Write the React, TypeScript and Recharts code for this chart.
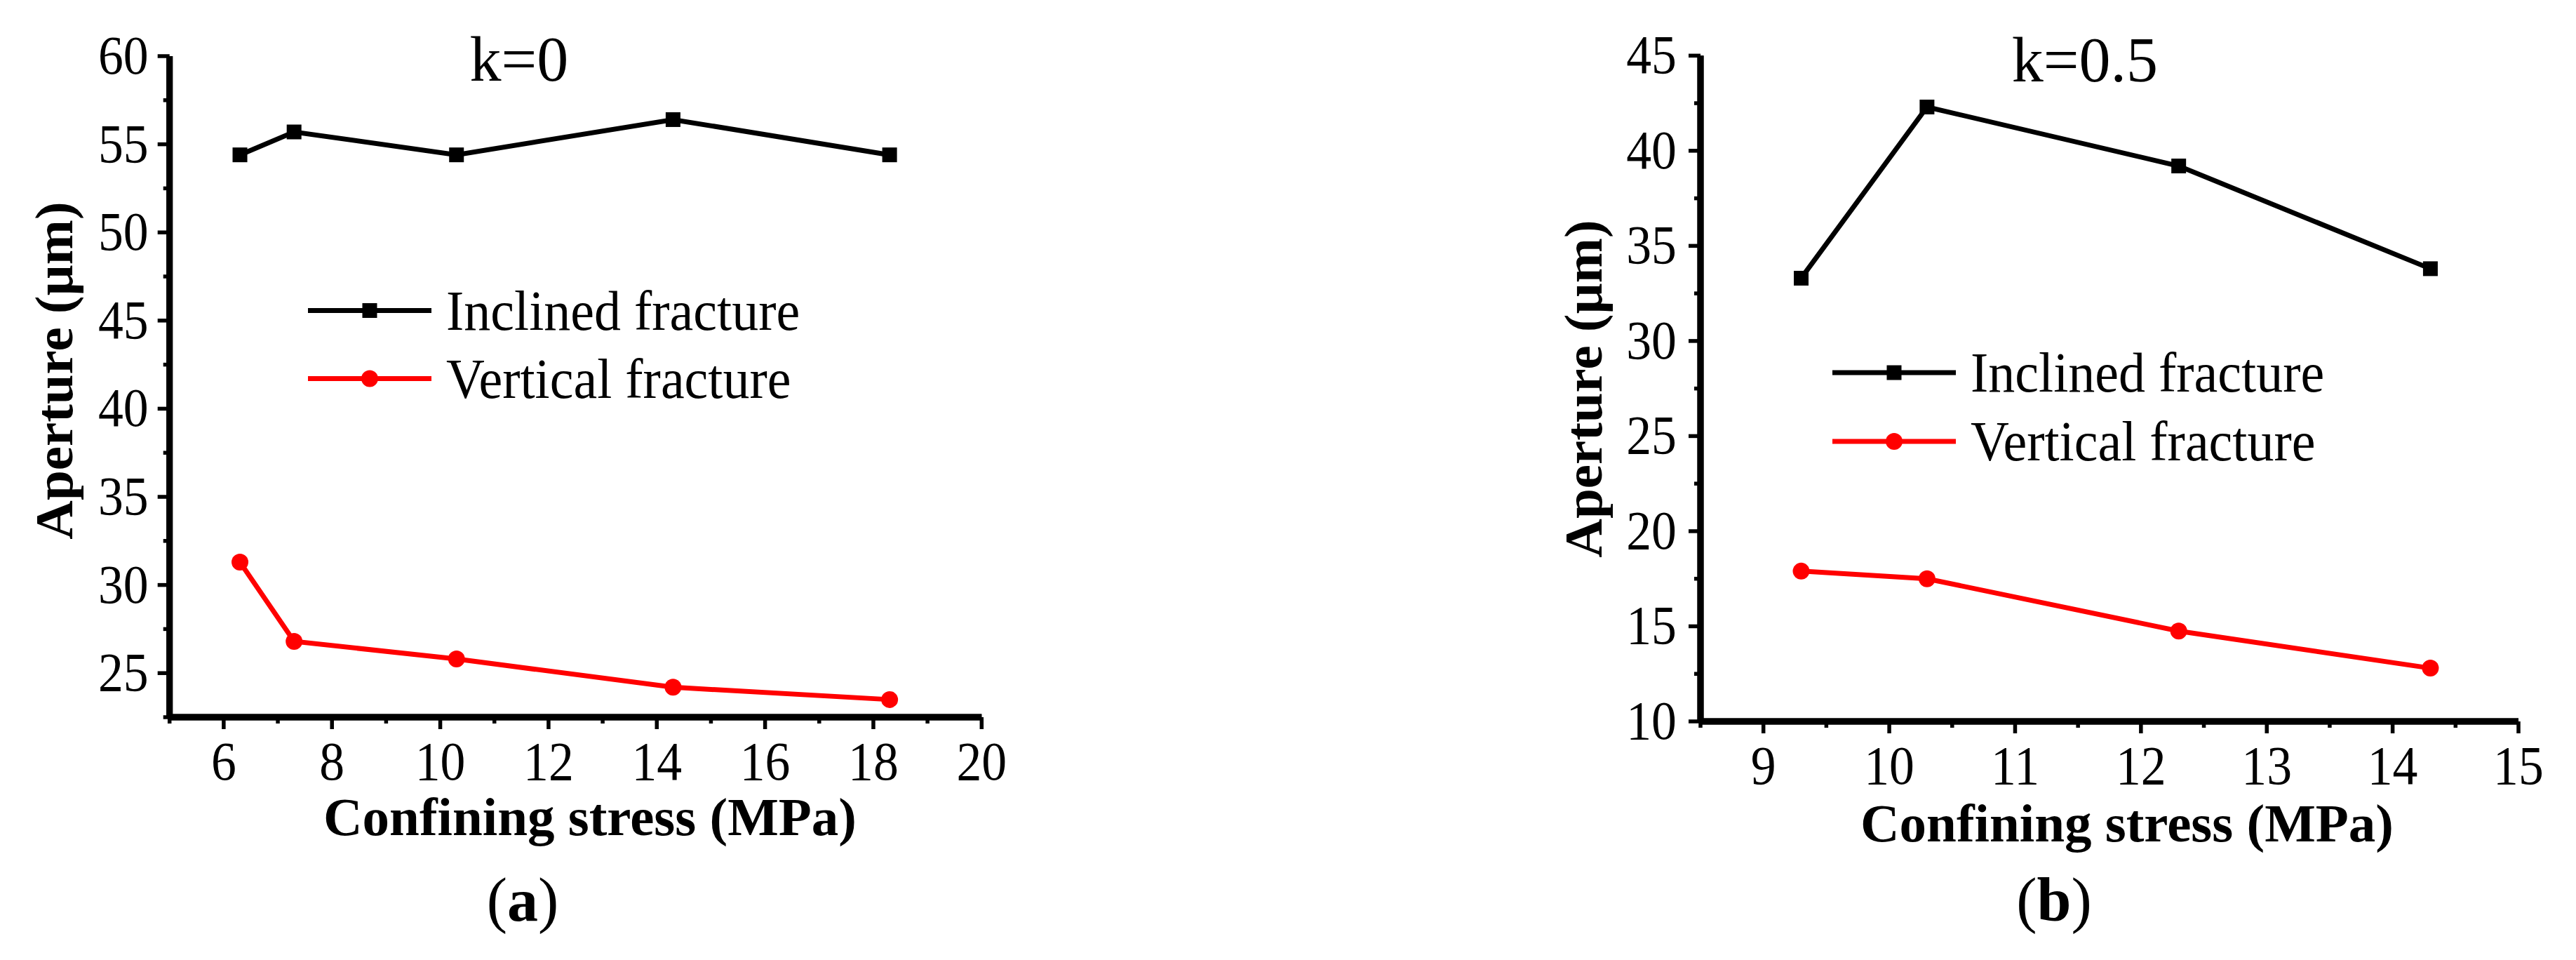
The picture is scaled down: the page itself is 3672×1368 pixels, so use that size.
import React from 'react';
import { LineChart, Line, XAxis, YAxis, Legend, ReferenceLine } from 'recharts';

// (a) k=0
const stressA = [6.3, 7.3, 10.3, 14.3, 18.3];
const inclinedA = [54.4, 55.7, 54.4, 56.4, 54.4];
const verticalA = [31.3, 26.8, 25.8, 24.2, 23.5];
const xTicksA = [5, 6, 7, 8, 9, 10, 11, 12, 13, 14, 15, 16, 17, 18, 19, 20];
const yTicksA = [22.5, 25, 27.5, 30, 32.5, 35, 37.5, 40, 42.5, 45, 47.5, 50, 52.5, 55, 57.5, 60];

// (b) k=0.5
const stressB = [9.3, 10.3, 12.3, 14.3];
const inclinedB = [33.3, 42.3, 39.2, 33.8];
const verticalB = [17.9, 17.5, 14.75, 12.8];
const xTicksB = [8.5, 9, 9.5, 10, 10.5, 11, 11.5, 12, 12.5, 13, 13.5, 14, 14.5, 15];
const yTicksB = [10, 12.5, 15, 17.5, 20, 22.5, 25, 27.5, 30, 32.5, 35, 37.5, 40, 42.5, 45];

const SERIES = ['Inclined fracture', 'Vertical fracture'];

const dataA = stressA.map((s, i) => ({ stress: s, inclined: inclinedA[i], vertical: verticalA[i] }));
const dataB = stressB.map((s, i) => ({ stress: s, inclined: inclinedB[i], vertical: verticalB[i] }));

const FONT = '"Liberation Serif", "Times New Roman", serif';
const RED = '#ff0000';

const Square = (props: any) => {
  const { cx, cy, index } = props;
  return <rect key={`sq-${index}`} x={cx - 10.5} y={cy - 10.5} width={21} height={21} fill="#000" />;
};

const Circle = (props: any) => {
  const { cx, cy, index } = props;
  return <circle key={`ci-${index}`} cx={cx} cy={cy} r={12} fill={RED} />;
};

function xTick(isMajor: (v: number) => boolean) {
  return (props: any) => {
    const { x, y, payload } = props;
    const major = isMajor(payload.value);
    return (
      <g>
        <line x1={x} x2={x} y1={y} y2={y + (major ? 17 : 9)} stroke="#000" strokeWidth={5.5} />
        {major && (
          <g transform={`translate(${x},${y + 89}) scale(0.92,1)`}>
            <text x={0} y={0} textAnchor="middle" fontSize={78} fontFamily={FONT} fill="#000">
              {payload.value}
            </text>
          </g>
        )}
      </g>
    );
  };
}

function yTick(gap: number) {
  return (props: any) => {
    const { x, y, payload } = props;
    const major = payload.value % 5 === 0;
    return (
      <g>
        <line x1={x} x2={x - (major ? 17 : 9)} y1={y} y2={y} stroke="#000" strokeWidth={5.5} />
        {major && (
          <g transform={`translate(${x - gap},${y + 25}) scale(0.92,1)`}>
            <text x={0} y={0} textAnchor="end" fontSize={78} fontFamily={FONT} fill="#000">
              {payload.value}
            </text>
          </g>
        )}
      </g>
    );
  };
}

function renderLegend(rowH: number) {
  return (props: any) => {
    const items = props.payload || [];
    return (
      <svg width={1000} height={rowH * 2} style={{ display: 'block', overflow: 'visible' }}>
        {items.map((e: any, i: number) => {
          const cy = rowH / 2 + i * rowH;
          const isRed = e.value === SERIES[1];
          return (
            <g key={e.value}>
              <line x1={0} x2={176} y1={cy} y2={cy} stroke={e.color} strokeWidth={7} />
              {isRed ? (
                <circle cx={88} cy={cy} r={12} fill={RED} />
              ) : (
                <rect x={77.5} y={cy - 10.5} width={21} height={21} fill="#000" />
              )}
              <g transform={`translate(197,${cy + 27}) scale(0.95,1)`}>
                <text x={0} y={0} fontSize={80} fontFamily={FONT} fill="#000">
                  {e.value}
                </text>
              </g>
            </g>
          );
        })}
      </svg>
    );
  };
}

const yTitle = (cx: number, cy: number) => () => (
  <text
    x={cx}
    y={cy}
    transform={`rotate(-90, ${cx}, ${cy})`}
    textAnchor="middle"
    fontSize={77}
    fontWeight="bold"
    fontFamily={FONT}
    fill="#000"
  >
    Aperture (µm)
  </text>
);

const xTitle = (cx: number, by: number) => () => (
  <text x={cx} y={by} textAnchor="middle" fontSize={77} fontWeight="bold" fontFamily={FONT} fill="#000">
    Confining stress (MPa)
  </text>
);

const axisLine = { stroke: '#000', strokeWidth: 9 };

export default function App() {
  return (
    <div style={{ position: 'absolute', left: 0, top: 0, width: 3672, height: 1368, background: '#fff' }}>
      <div style={{ position: 'absolute', left: 0, top: 0 }}>
        <LineChart width={1800} height={1368} data={dataA} margin={{ top: 80, right: 400.7, bottom: 0, left: 0 }}>
          <XAxis
            dataKey="stress"
            type="number"
            domain={[5, 20]}
            ticks={xTicksA}
            interval={0}
            height={346}
            tickSize={0}
            tickMargin={0}
            tickLine={false}
            axisLine={axisLine}
            tick={xTick((v) => v % 2 === 0)}
            label={xTitle(841, 1190)}
          />
          <YAxis
            type="number"
            domain={[22.5, 60]}
            ticks={yTicksA}
            interval={0}
            width={241.7}
            tickSize={0}
            tickMargin={0}
            tickLine={false}
            axisLine={axisLine}
            tick={yTick(30)}
            label={yTitle(103, 528)}
          />
          <ReferenceLine x={xTicksA[0]} stroke="#000" strokeWidth={9} />
          <ReferenceLine y={yTicksA[0]} stroke="#000" strokeWidth={9} />
          <Legend
            layout="vertical"
            align="center"
            verticalAlign="middle"
            wrapperStyle={{ left: 439, top: 394, width: 1000 }}
            content={renderLegend(97)}
          />
          <Line dataKey="inclined" name={SERIES[0]} stroke="#000" strokeWidth={7} dot={<Square />} isAnimationActive={false} />
          <Line dataKey="vertical" name={SERIES[1]} stroke={RED} strokeWidth={7} dot={<Circle />} isAnimationActive={false} />
        </LineChart>
      </div>
      <div style={{ position: 'absolute', left: 1800, top: 0 }}>
        <LineChart width={1872} height={1368} data={dataB} margin={{ top: 79.3, right: 82, bottom: 0, left: 0 }}>
          <XAxis
            dataKey="stress"
            type="number"
            domain={[8.5, 15]}
            ticks={xTicksB}
            interval={0}
            height={340}
            tickSize={0}
            tickMargin={0}
            tickLine={false}
            axisLine={axisLine}
            tick={xTick((v) => Number.isInteger(v))}
            label={xTitle(1232, 1199)}
          />
          <YAxis
            type="number"
            domain={[10, 45]}
            ticks={yTicksB}
            interval={0}
            width={624}
            tickSize={0}
            tickMargin={0}
            tickLine={false}
            axisLine={axisLine}
            tick={yTick(34)}
            label={yTitle(483, 554)}
          />
          <ReferenceLine x={xTicksB[0]} stroke="#000" strokeWidth={9} />
          <ReferenceLine y={yTicksB[0]} stroke="#000" strokeWidth={9} />
          <Legend
            layout="vertical"
            align="center"
            verticalAlign="middle"
            wrapperStyle={{ left: 812, top: 482, width: 1000 }}
            content={renderLegend(98)}
          />
          <Line dataKey="inclined" name={SERIES[0]} stroke="#000" strokeWidth={7} dot={<Square />} isAnimationActive={false} />
          <Line dataKey="vertical" name={SERIES[1]} stroke={RED} strokeWidth={7} dot={<Circle />} isAnimationActive={false} />
        </LineChart>
      </div>
      <svg
        width={3672}
        height={1368}
        style={{ position: 'absolute', left: 0, top: 0, pointerEvents: 'none' }}
      >
        <text x={740} y={115} textAnchor="middle" fontSize={90} fontFamily={FONT} fill="#000">k=0</text>
        <text x={2972} y={116} textAnchor="middle" fontSize={90} fontFamily={FONT} fill="#000">k=0.5</text>
        <text x={745} y={1312} textAnchor="middle" fontSize={88} fontFamily={FONT} fill="#000">
          (<tspan fontWeight="bold">a</tspan>)
        </text>
        <text x={2928} y={1312} textAnchor="middle" fontSize={88} fontFamily={FONT} fill="#000">
          (<tspan fontWeight="bold">b</tspan>)
        </text>
      </svg>
    </div>
  );
}
